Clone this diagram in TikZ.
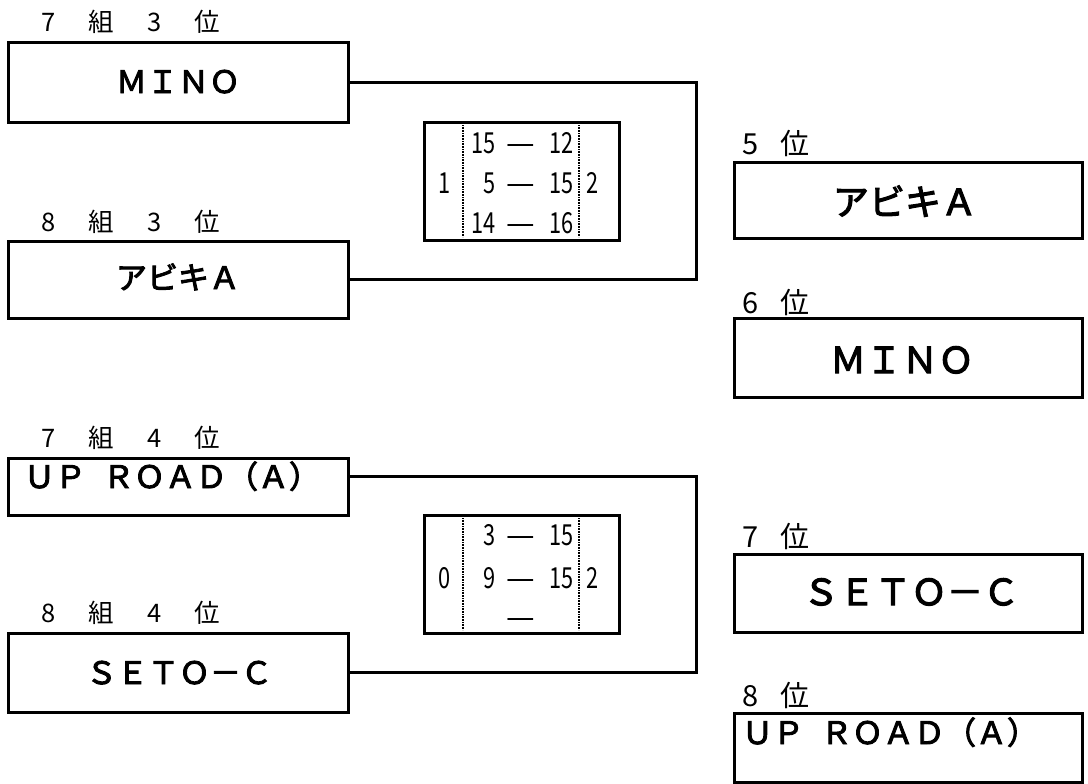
\documentclass[tikz,border=0pt]{standalone}
\usepackage{fontspec}
\setmainfont{Noto Sans CJK JP}
\newfontfamily\teamfont[FakeBold=3]{Noto Sans CJK JP}
\begin{document}
\begin{tikzpicture}[x=1pt,y=-1pt,
  box/.style={draw, line width=3pt, inner sep=0pt, minimum width=#1},
  conn/.style={line width=3pt},
  dotline/.style={line width=1.8pt, dash pattern=on 0.8pt off 0.8pt},
  teamS/.style={inner sep=0pt, text height=22pt, text depth=0pt, font=\teamfont\fontsize{31}{36}\selectfont},
  teamL/.style={inner sep=0pt, text height=26.3pt, text depth=0pt, font=\teamfont\fontsize{36}{42}\selectfont},
  lbl/.style={inner sep=0pt, anchor=west, text height=18.6pt, text depth=0pt, font=\fontsize{25.5}{30}\selectfont},
  rlbl/.style={inner sep=0pt, anchor=west, text height=21pt, text depth=0pt, font=\fontsize{29}{32}\selectfont},
  num/.style={inner sep=0pt, text height=21pt, text depth=0pt, xscale=0.75, transform shape, font=\fontsize{29}{32}\selectfont},
  dsh/.style={inner sep=0pt, text height=22.5pt, text depth=0pt, font=\fontsize{32}{34}\selectfont}]
\useasboundingbox (0,0) rectangle (1088,784);

% left boxes
\node[box=340pt, minimum height=79pt] (L1) at (178,82.5) {};
\node[box=340pt, minimum height=77pt] (L2) at (178,279.5) {};
\node[box=340pt, minimum height=57pt] (L3) at (178,486.5) {};
\node[box=340pt, minimum height=79pt] (L4) at (178,672.5) {};
\node[teamS] (tL1) at (178,82) {ＭＩＮＯ};
\node[teamS] (tL2) at (178,278) {アビキＡ};
\node[teamS] (tL3) at (172,477) {ＵＰ\hspace{0.55em}ＲＯＡＤ（Ａ）};
\node[teamS] (tL4) at (179,673) {ＳＥＴＯ－Ｃ};

% left labels
\node[lbl] (lL1) at (21.5,22.5) {\makebox[53pt]{7}\makebox[53pt]{組}\makebox[53pt]{3}\makebox[53pt]{位}};
\node[lbl] (lL2) at (21.5,222) {\makebox[53pt]{8}\makebox[53pt]{組}\makebox[53pt]{3}\makebox[53pt]{位}};
\node[lbl] (lL3) at (21.5,438) {\makebox[53pt]{7}\makebox[53pt]{組}\makebox[53pt]{4}\makebox[53pt]{位}};
\node[lbl] (lL4) at (21.5,613) {\makebox[53pt]{8}\makebox[53pt]{組}\makebox[53pt]{4}\makebox[53pt]{位}};

% right boxes
\node[box=348pt, minimum height=76pt] (R1) at (908,200) {};
\node[box=348pt, minimum height=79pt] (R2) at (908,357.5) {};
\node[box=348pt, minimum height=78pt] (R3) at (908,593) {};
\node[box=348pt, minimum height=69pt] (R4) at (908,747.5) {};
\node[teamL] (tR1) at (905,202) {アビキＡ};
\node[teamL] (tR2) at (902,360) {ＭＩＮＯ};
\node[teamL] (tR3) at (911,592) {ＳＥＴＯ－Ｃ};
\node[teamS] (tR4) at (890,733) {ＵＰ\hspace{0.55em}ＲＯＡＤ（Ａ）};

% right labels
\node[rlbl] (lR1) at (727.5,144) {\makebox[45pt]{5}\makebox[45pt]{位}};
\node[rlbl] (lR2) at (727.5,303) {\makebox[45pt]{6}\makebox[45pt]{位}};
\node[rlbl] (lR3) at (727.5,537) {\makebox[45pt]{7}\makebox[45pt]{位}};
\node[rlbl] (lR4) at (727.5,696) {\makebox[45pt]{8}\makebox[45pt]{位}};

% connectors
\coordinate (J1) at (696,180);
\draw[conn] (L1.east) -| (J1) |- (L2.east);
\coordinate (J2) at (696,574);
\draw[conn] ([yshift=10.5pt]L3.east) -| (J2) |- (L4.east);

% score box 1
\node[box=195pt, minimum height=118pt] (S1) at (521.5,181) {};
\draw[dotline] (463,125) -- (463,237);
\draw[dotline] (579,125) -- (579,237);
\node[num] (s1l) at (445,183) {1};
\node[num] (s1r) at (593,183) {2};
\node[num, anchor=east] (s1a1) at (496,143) {15};
\node[dsh] (s1a2) at (521,143) {—};
\node[num, anchor=east] (s1a3) at (574,143) {12};
\node[num, anchor=east] (s1b1) at (496,183) {5};
\node[dsh] (s1b2) at (521,183) {—};
\node[num, anchor=east] (s1b3) at (574,183) {15};
\node[num, anchor=east] (s1c1) at (496,223) {14};
\node[dsh] (s1c2) at (521,223) {—};
\node[num, anchor=east] (s1c3) at (574,223) {16};

% score box 2
\node[box=195pt, minimum height=118pt] (S2) at (521.5,574) {};
\draw[dotline] (463,518) -- (463,630);
\draw[dotline] (579,518) -- (579,630);
\node[num] (s2l) at (445,578) {0};
\node[num] (s2r) at (593,578) {2};
\node[num, anchor=east] (s2a1) at (496,535) {3};
\node[dsh] (s2a2) at (521,535) {—};
\node[num, anchor=east] (s2a3) at (574,535) {15};
\node[num, anchor=east] (s2b1) at (496,578) {9};
\node[dsh] (s2b2) at (521,578) {—};
\node[num, anchor=east] (s2b3) at (574,578) {15};
\node[dsh] (s2c2) at (521,617) {—};
\end{tikzpicture}
\end{document}
